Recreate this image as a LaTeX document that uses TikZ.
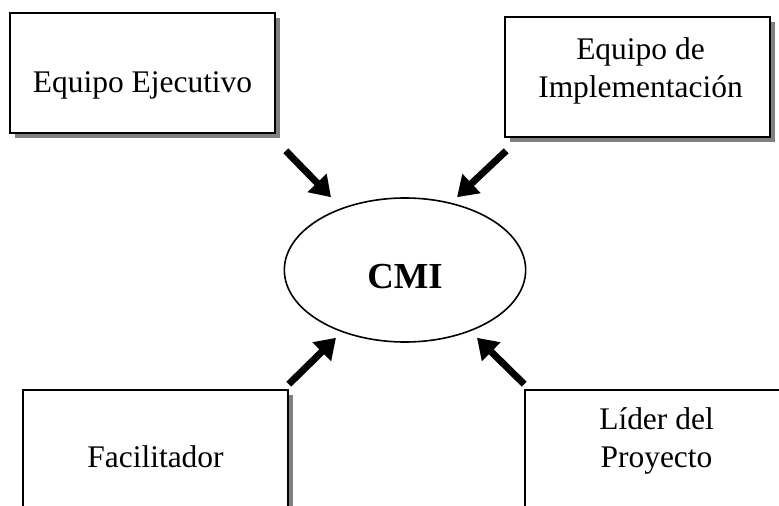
\documentclass[tikz,border=0pt]{standalone}
\usepackage{fontspec}
\setmainfont{Liberation Serif}
\usetikzlibrary{shapes.geometric,arrows.meta,shadows}

\begin{document}
\begin{tikzpicture}[x=0.75pt,y=-0.75pt,
	box/.style={draw,line width=1.2pt,fill=white,minimum width=198.75pt,minimum height=90pt,
		general shadow={fill=black!50,shadow xshift=3.4pt,shadow yshift=-3.4pt}},
	lbl/.style={align=center,inner sep=0pt,font=\fontsize{23.6}{28.5}\selectfont},
	fat/.style={line width=5.2pt,-{Triangle[length=15pt,width=19pt]}}]
	\clip (0,0) rectangle (779,506);
	% boxes
	\node[box] (ee) at (142.5,73) {};
	\node[box] (ei) at (637.5,77) {};
	\node[box] (fa) at (155.5,450) {};
	\node[box] (ld) at (657.5,450) {};
	\node[ellipse,draw,line width=1.2pt,minimum width=181pt,minimum height=108pt,inner sep=0pt] (cmi) at (405,270) {};
	% texts
	\node[lbl] (ee-txt) at ([shift={(0,12)}]ee.center) {Equipo Ejecutivo};
	\node[lbl] (ei-txt) at ([shift={(3,-6)}]ei.center) {Equipo de\\Implementación};
	\node[lbl] (fa-txt) at ([shift={(0,7)}]fa.center) {Facilitador};
	\node[lbl] (ld-txt) at ([shift={(-1,-9)}]ld.center) {Líder del\\Proyecto};
	\node[inner sep=0pt,font=\fontsize{27.5}{33}\selectfont\bfseries] (cmi-txt) at ([shift={(0,6.5)}]cmi.center) {CMI};
	% arrows
	\draw[fat] ([shift={(10,17)}]ee.south east) -- ([shift={(-74,0)}]cmi.north);
	\draw[fat] ([shift={(2,13)}]ei.south west) -- ([shift={(52,0)}]cmi.north);
	\draw[fat] ([shift={(0,-5)}]fa.north east) -- ([shift={(-69,-5)}]cmi.south);
	\draw[fat] ([shift={(0,-5)}]ld.north west) -- ([shift={(72,-5)}]cmi.south);
\end{tikzpicture}
\end{document}
